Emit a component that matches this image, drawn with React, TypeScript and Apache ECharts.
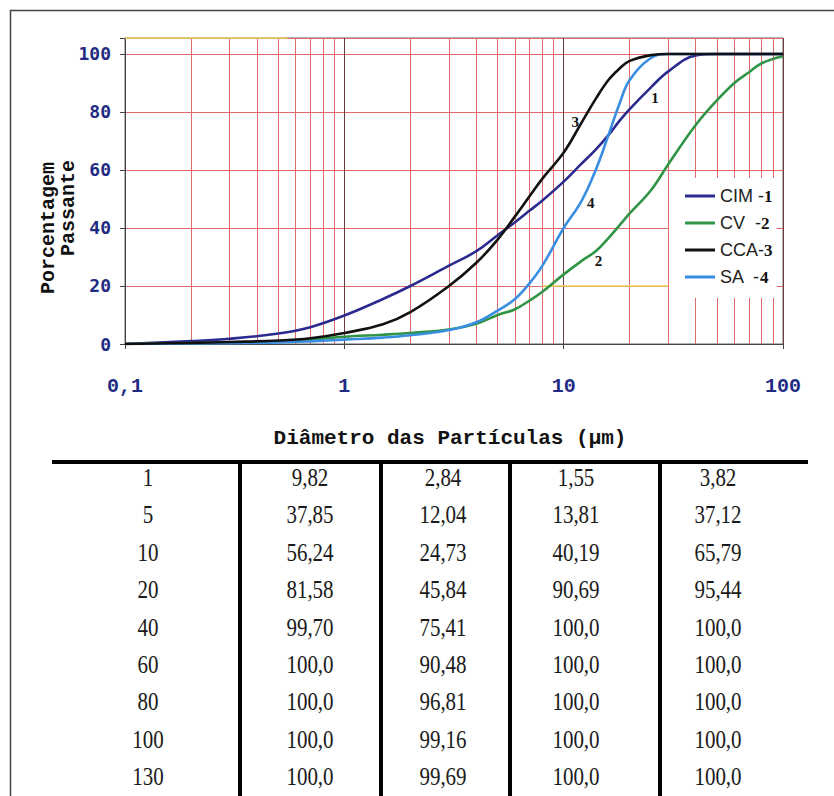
import React, { useEffect, useRef } from 'react';
import * as echarts from 'echarts';

// ---- chart data ----
const seriesNames = ['CIM -1', 'CV  -2', 'CCA-3', 'SA  -4'];
const seriesColors = ['#2b2b8f', '#2f9445', '#111111', '#3a8ee2'];

const diameters = [0.1, 0.2, 0.3, 0.5, 0.7, 1, 1.5, 2, 3, 4, 5, 6, 7, 8, 10, 12, 14, 16, 18, 20, 25, 30, 40, 50, 60, 70, 80, 100];
const cimValues = [0, 1, 1.8, 3.6, 5.8, 9.8, 15.5, 20, 27, 32, 37.5, 42, 46, 49.5, 56, 62, 67, 72, 77, 81, 88.5, 94, 99.5, 100, 100, 100, 100, 100];
const cvValues = [0, 0.3, 0.5, 0.9, 1.5, 2.5, 3.2, 3.8, 5, 7, 10, 12, 15, 18, 24, 28.5, 32, 36.5, 41, 45, 53, 62, 75.5, 84, 90, 93.7, 96.8, 99.2];
const ccaValues = [0, 0.4, 0.7, 1.2, 2, 3.8, 6.8, 11, 20, 28, 36, 44, 51, 57, 66, 76, 84.5, 91, 95, 97.6, 99.6, 100, 100, 100, 100, 100, 100, 100];
const saValues = [0, 0.2, 0.3, 0.5, 0.9, 1.5, 2.2, 3, 4.8, 7.5, 11.5, 15.5, 21, 27, 40, 49, 60, 72, 83, 91, 98.6, 100, 100, 100, 100, 100, 100, 100];
const curveValues = [cimValues, cvValues, ccaValues, saValues];

const curveLabels = ['1', '2', '3', '4'];
const curveLabelPos: [number, number][] = [[26.1, 84.8], [14.4, 28.6], [11.3, 76.5], [13.3, 48.6]];

const minorX = [0.2, 0.3, 0.4, 0.5, 0.6, 0.7, 0.8, 0.9, 2, 3, 4, 5, 6, 7, 8, 9, 20, 30, 40, 50, 60, 70, 80, 90];

// ---- table data ----
const tableDiameters = [1, 5, 10, 20, 40, 60, 80, 100, 130];
const tableCIM = [9.82, 37.85, 56.24, 81.58, 99.7, 100, 100, 100, 100];
const tableCV = [2.84, 12.04, 24.73, 45.84, 75.41, 90.48, 96.81, 99.16, 99.69];
const tableSA = [1.55, 13.81, 40.19, 90.69, 100, 100, 100, 100, 100];
const tableCCA = [3.82, 37.12, 65.79, 95.44, 100, 100, 100, 100, 100];

const fmt = (v: number) => (v === 100 ? '100,0' : v.toFixed(2).replace('.', ','));

export default function App() {
  const ref = useRef<HTMLDivElement>(null);
  useEffect(() => {
    if (!ref.current) return;
    const chart = echarts.init(ref.current, undefined, { renderer: 'svg' });

    const gridRed = '#e06a6a';
    const navy = '#1f2a82';

    const colX = [148, 310, 443, 576, 718];
    const rowY0 = 478;
    const rowStep = 37.4;
    const tableCols = [tableDiameters.map(String), tableCIM.map(fmt), tableCV.map(fmt), tableSA.map(fmt), tableCCA.map(fmt)];

    const graphics: any[] = [];
    // outer frame
    graphics.push({ type: 'line', shape: { x1: 10, y1: 10.5, x2: 834, y2: 10.5 }, style: { stroke: '#444', lineWidth: 1.5 }, silent: true });
    graphics.push({ type: 'line', shape: { x1: 10.5, y1: 10, x2: 10.5, y2: 796 }, style: { stroke: '#444', lineWidth: 1.5 }, silent: true });
    // axis titles
    graphics.push({ type: 'text', x: 48, y: 228, rotation: Math.PI / 2, style: { text: 'Porcentagem', fontFamily: 'Liberation Mono', fontWeight: 'bold', fontSize: 20, fill: '#111', align: 'center', verticalAlign: 'middle' } });
    graphics.push({ type: 'text', x: 68, y: 208, rotation: Math.PI / 2, style: { text: 'Passante', fontFamily: 'Liberation Mono', fontWeight: 'bold', fontSize: 20, fill: '#111', align: 'center', verticalAlign: 'middle' } });
    graphics.push({ type: 'text', x: 450, y: 438, style: { text: 'Diâmetro das Partículas (µm)', fontFamily: 'Liberation Mono', fontWeight: 'bold', fontSize: 21, fill: '#111', align: 'center', verticalAlign: 'middle' } });
    // table lines
    graphics.push({ type: 'line', shape: { x1: 52, y1: 462, x2: 808, y2: 462 }, style: { stroke: '#000', lineWidth: 4 }, silent: true });
    [240, 381, 510, 660].forEach((x) => {
      graphics.push({ type: 'line', shape: { x1: x, y1: 462, x2: x, y2: 796 }, style: { stroke: '#000', lineWidth: 4 }, silent: true });
    });
    tableCols.forEach((col, ci) => {
      col.forEach((t, ri) => {
        graphics.push({ type: 'text', x: colX[ci], y: rowY0 + ri * rowStep, scaleY: 1.15, style: { text: t, fontFamily: 'Liberation Serif', fontSize: 21, fill: '#1a1a1a', align: 'center', verticalAlign: 'middle' } });
      });
    });

    const series: any[] = curveValues.map((vals, i) => ({
      name: seriesNames[i],
      type: 'line',
      data: diameters.map((d, k) => [d, vals[k]]),
      showSymbol: false,
      smooth: 0.4,
      lineStyle: { color: seriesColors[i], width: 2.6 },
      itemStyle: { color: seriesColors[i] },
      z: 3 + (i === 2 ? 1 : 0),
      markPoint: {
        silent: true,
        symbol: 'circle',
        symbolSize: 1,
        itemStyle: { color: 'rgba(0,0,0,0)' },
        label: { show: true, position: 'inside', formatter: curveLabels[i], color: '#111', fontFamily: 'Liberation Serif', fontWeight: 'bold', fontSize: 15 },
        data: [{ coord: curveLabelPos[i] }],
      },
    }));
    series[0].markLine = {
      silent: true,
      symbol: ['none', 'none'],
      label: { show: false },
      emphasis: { disabled: true },
      lineStyle: { color: gridRed, width: 1, type: 'solid' },
      z: 1,
      data: [
        ...minorX.map((v) => ({ xAxis: v })),
        [{ coord: [8, 20], lineStyle: { color: '#f2cf5a', width: 1.5, type: 'solid' } }, { coord: [30, 20] }],
        [{ coord: [0.1, 105.5], lineStyle: { color: '#e8d060', width: 1.5, type: 'solid' } }, { coord: [0.55, 105.5] }],
      ],
    };

    chart.setOption({
      animation: false,
      grid: { left: 125, right: 51, top: 38, bottom: 796 - 344, show: true, borderColor: '#666', borderWidth: 1, backgroundColor: 'transparent' },
      legend: {
        data: seriesNames,
        orient: 'vertical',
        left: 669,
        top: 178,
        z: 10,
        padding: [9, 4, 12, 16],
        backgroundColor: '#fff',
        icon: 'rect',
        itemWidth: 30,
        itemHeight: 3,
        itemGap: 9,
        formatter: (name: string) => name.replace(/(\d)$/, '{n|$1}'),
        textStyle: {
          fontFamily: 'Liberation Sans', fontSize: 18, color: '#222',
          rich: { n: { fontFamily: 'Liberation Serif', fontWeight: 'bold', fontSize: 17, color: '#111' } },
        },
      },
      xAxis: {
        type: 'log',
        logBase: 10,
        min: 0.1,
        max: 100,
        axisLine: { show: true, lineStyle: { color: '#444', width: 1 } },
        axisTick: { show: true, length: 5, lineStyle: { color: '#444' } },
        axisLabel: {
          margin: 32,
          color: navy,
          fontFamily: 'Liberation Mono',
          fontWeight: 'bold',
          fontSize: 20,
          formatter: (v: number) => (v < 0.5 ? '0,1' : String(Math.round(v))),
        },
        splitLine: { show: true, lineStyle: { color: '#6e3c3c', width: 1 } },
      },
      yAxis: {
        type: 'value',
        min: 0,
        max: 105.5,
        interval: 20,
        axisLine: { show: true, lineStyle: { color: '#444', width: 1 } },
        axisTick: { show: true, length: 5, lineStyle: { color: '#444' } },
        axisLabel: {
          margin: 14,
          color: navy,
          fontFamily: 'DejaVu Sans Mono',
          fontWeight: 'bold',
          fontSize: 18,
          formatter: (v: number) => (v % 20 === 0 ? String(v) : ''),
        },
        splitLine: { show: true, lineStyle: { color: gridRed, width: 1 } },
      },
      graphic: { elements: graphics },
      series,
    });
    return () => chart.dispose();
  }, []);
  return <div ref={ref} style={{ position: 'absolute', left: 0, top: 0, width: 834, height: 796, background: '#fff' }} />;
}
